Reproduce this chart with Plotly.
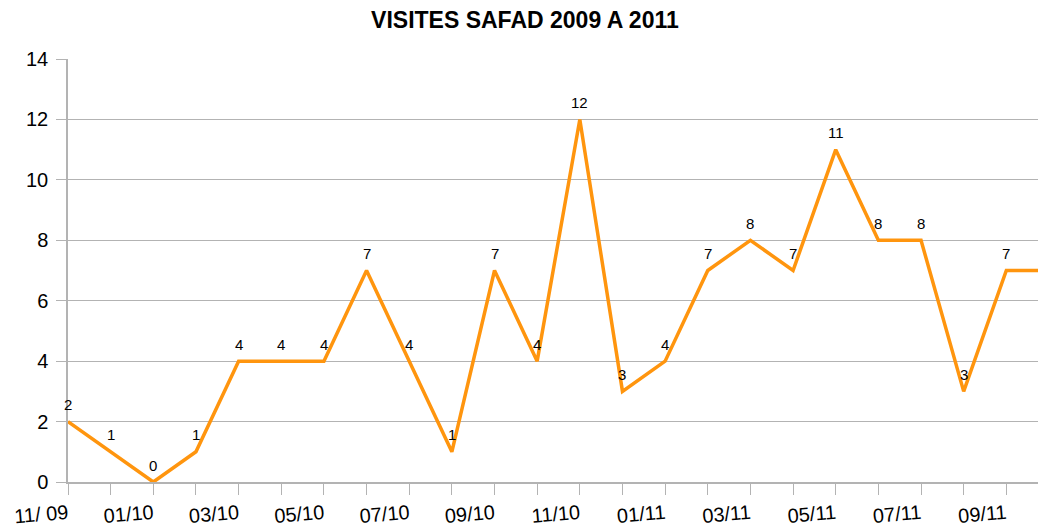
import plotly.graph_objects as go

# monthly visits, nov 2009 -> oct 2011
MONTHS = [
    "11/09", "12/09", "01/10", "02/10", "03/10", "04/10", "05/10", "06/10",
    "07/10", "08/10", "09/10", "10/10", "11/10", "12/10", "01/11", "02/11",
    "03/11", "04/11", "05/11", "06/11", "07/11", "08/11", "09/11", "10/11",
]
VISITS = [2, 1, 0, 1, 4, 4, 4, 7, 4, 1, 7, 4, 12, 3, 4, 7, 8, 7, 11, 8, 8, 3, 7, 7]
TICK_TEXT = [
    "11/ 09", "", "01/10", "", "03/10", "", "05/10", "", "07/10", "", "09/10", "",
    "11/10", "", "01/11", "", "03/11", "", "05/11", "", "07/11", "", "09/11", "",
]

GRID = "#b3b3b3"
ORANGE = "#ff950e"
FONT = "Liberation Sans, Arial, sans-serif"

fig = go.Figure()
fig.add_trace(go.Scatter(
    x=MONTHS,
    y=VISITS,
    mode="lines",
    line=dict(color=ORANGE, width=3.5),
    hoverinfo="x+y",
))

# value labels sit a bit higher than plotly's "top center" text
for m, v in zip(MONTHS, VISITS):
    fig.add_annotation(
        x=m, y=v, text=str(v), showarrow=False, yshift=17,
        font=dict(size=15, color="#000000", family=FONT),
    )

# the page body has an 8px margin, so the figure is sized to fit inside it
fig.update_layout(
    width=1038,
    height=523,
    margin=dict(l=60, r=0, t=51, b=49),
    title=dict(
        text="<b>VISITES SAFAD 2009 A 2011</b>",
        x=0.498, xanchor="center", y=0.978, yanchor="middle",
        font=dict(size=23, color="#000000", family=FONT),
    ),
    font=dict(family=FONT, color="#000000"),
    plot_bgcolor="white",
    paper_bgcolor="white",
    showlegend=False,
)
fig.update_xaxes(
    type="category",
    range=[0, 22.93],
    tickmode="array",
    tickvals=MONTHS,
    ticktext=TICK_TEXT,
    tickangle=-5,
    ticks="outside",
    ticklen=11,
    tickcolor=GRID,
    showline=True,
    linecolor=GRID,
    linewidth=1.5,
    showgrid=False,
    zeroline=False,
    automargin=False,
    tickfont=dict(size=20, color="#000000"),
)
fig.update_yaxes(
    range=[0, 14],
    dtick=2,
    ticks="outside",
    ticklen=10,
    tickcolor=GRID,
    showline=True,
    linecolor=GRID,
    linewidth=1.5,
    gridcolor=GRID,
    gridwidth=1,
    zeroline=False,
    automargin=False,
    ticklabelstandoff=4,
    tickfont=dict(size=20, color="#000000"),
)

fig.write_html("out.html")
